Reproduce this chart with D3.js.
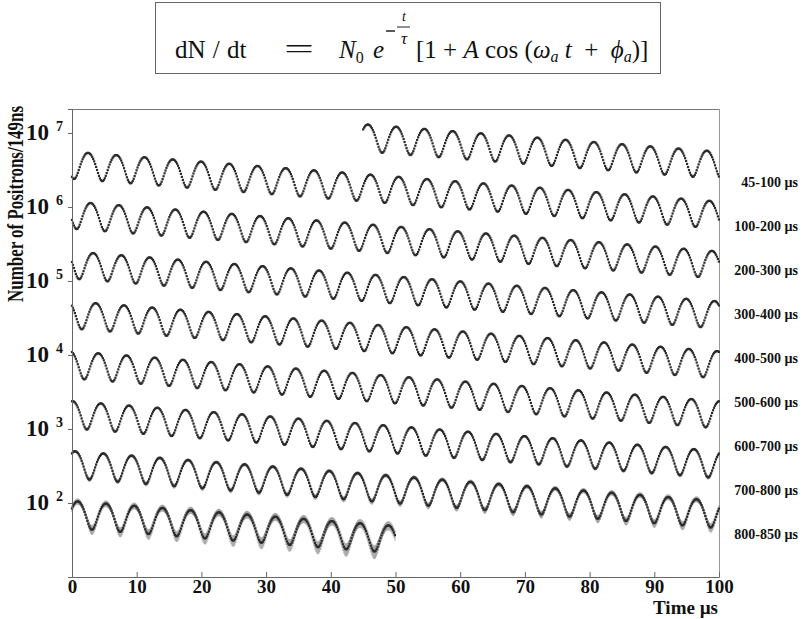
<!DOCTYPE html>
<html><head><meta charset="utf-8">
<script src="https://cdn.jsdelivr.net/npm/d3@7"></script>
<style>body{margin:0;background:#fff} svg{display:block}</style>
</head><body>
<svg id="chart" width="802" height="619"></svg>
<script>
// ---- data ----
const rowLabels = ["45-100 µs","100-200 µs","200-300 µs","300-400 µs","400-500 µs","500-600 µs","600-700 µs","700-800 µs","800-850 µs"];
const rowStart  = [45, 100, 200, 300, 400, 500, 600, 700, 800];
const rowEnd    = [100, 200, 300, 400, 500, 600, 700, 800, 850];
// fit parameters of dN/dt = N0 e^(-t/tau) [1 + A cos(wa t + phi)]
const fitN0 = 1.89e7;      // counts per 149 ns bin at t = 0
const fitTau = 64.4;       // dilated lifetime, µs
const fitA = 0.40;         // asymmetry
const fitPeriod = 4.365;   // g-2 period, µs
const fitPeakTime = 2.1;   // time of first maximum, µs
const binWidth = 0.149;    // µs
const xTickValues = [0,10,20,30,40,50,60,70,80,90,100];
const yDecades = [2,3,4,5,6,7];

// ---- chart ----
const svg = d3.select("#chart");
const serif = "'Liberation Serif','Times New Roman',serif";
const x = d3.scaleLinear().domain([0,100]).range([72,719]);
const y = d3.scaleLog().domain([10, Math.pow(10,7.324)]).range([577,109]);

const omega = 2*Math.PI/fitPeriod;
const phi = -omega*fitPeakTime;
function model(t){ return fitN0*Math.exp(-t/fitTau)*(1+fitA*Math.cos(omega*t+phi)); }

const points = [];
rowStart.forEach((s,k)=>{
  const win = Math.floor(s/100)*100;
  const n = Math.round((rowEnd[k]-s)/binWidth);
  for(let i=0;i<=n;i++){
    const t = s + i*binWidth;
    if (t>rowEnd[k]) break;
    const v = model(t);
    points.push({row:k, local:t-win, v:v, err:Math.sqrt(v)});
  }
});

// formula box
const fg = svg.append("g").attr("font-family",serif).attr("fill","#111");
fg.append("rect").attr("x",155.5).attr("y",2.5).attr("width",505).attr("height",71)
  .attr("fill","none").attr("stroke","#666").attr("stroke-width",1);
fg.append("text").attr("x",175).attr("y",58).attr("font-size",25).attr("word-spacing",1).text("dN / dt");
fg.append("text").attr("x",284).attr("y",58).attr("font-size",28)
  .attr("textLength",30).attr("lengthAdjust","spacingAndGlyphs").text("=");
const nt = fg.append("text").attr("x",339).attr("y",58).attr("font-size",25);
nt.append("tspan").attr("font-style","italic").text("N");
nt.append("tspan").attr("font-size",16).attr("dy",5).text("0");
fg.append("text").attr("x",373).attr("y",58).attr("font-size",25).attr("font-style","italic").text("e");
fg.append("line").attr("x1",386).attr("x2",395).attr("y1",31).attr("y2",31).attr("stroke","#222").attr("stroke-width",1.5);
fg.append("line").attr("x1",397).attr("x2",410).attr("y1",27).attr("y2",27).attr("stroke","#222").attr("stroke-width",1);
fg.append("text").attr("x",404).attr("y",21).attr("font-size",14).attr("font-style","italic").attr("text-anchor","middle").text("t");
fg.append("text").attr("x",404).attr("y",44).attr("font-size",17).attr("font-style","italic").attr("text-anchor","middle").text("τ");
const bt = fg.append("text").attr("x",416).attr("y",58).attr("font-size",25).attr("xml:space","preserve");
bt.append("tspan").text("[1 + ");
bt.append("tspan").attr("font-style","italic").text("A");
bt.append("tspan").text(" cos (");
bt.append("tspan").attr("font-style","italic").text("ω");
bt.append("tspan").attr("font-style","italic").attr("font-size",16).attr("dy",4).text("a");
bt.append("tspan").attr("font-style","italic").attr("dy",-4).text(" t");
bt.append("tspan").text("  +  ");
bt.append("tspan").attr("font-style","italic").text("ϕ");
bt.append("tspan").attr("font-style","italic").attr("font-size",16).attr("dy",4).text("a");
bt.append("tspan").attr("dy",-4).text(")]");

// frame (top & right)
svg.append("line").attr("x1",x(0)).attr("x2",x(100)).attr("y1",109.5).attr("y2",109.5).attr("stroke","#777");
svg.append("line").attr("x1",x(100)+0.5).attr("x2",x(100)+0.5).attr("y1",109).attr("y2",577).attr("stroke","#999");

// data
const dg = svg.append("g");
dg.selectAll("line.err").data(points.filter(d=>(y(d.v-d.err)-y(d.v+d.err))>1.6)).join("line")
  .attr("class","err")
  .attr("x1",d=>x(d.local)).attr("x2",d=>x(d.local))
  .attr("y1",d=>y(d.v+d.err)).attr("y2",d=>y(d.v-d.err))
  .attr("stroke","#444").attr("stroke-width",0.6).attr("stroke-opacity",0.8);
dg.selectAll("rect.pt").data(points).join("rect")
  .attr("class","pt")
  .attr("x",d=>x(d.local)-1.1).attr("y",d=>y(d.v)-1.1)
  .attr("width",2.2).attr("height",2.2).attr("fill","#2b2b2b");

// x axis
const xa = svg.append("g").attr("transform","translate(0,577)");
xa.call(d3.axisBottom(x).tickValues(d3.range(0,101,2)).tickSize(-3).tickFormat(""));
xa.call(d3.axisBottom(x).tickValues(xTickValues).tickSize(-5).tickPadding(2).tickFormat(d3.format("d")));
xa.selectAll("path,line").attr("stroke","#666");
xa.selectAll("text").attr("font-family",serif).attr("font-weight","bold").attr("font-size",19).attr("fill","#111");
svg.append("text").attr("x",718).attr("y",614).attr("text-anchor","end")
  .attr("font-family",serif).attr("font-weight","bold").attr("font-size",19).attr("fill","#111").text("Time µs");

// y axis
const minor = [];
for(let e=1;e<=7;e++) for(let m=2;m<=9;m++){ const v=m*Math.pow(10,e); if(v<=Math.pow(10,7.324)) minor.push(v); }
const ya = svg.append("g").attr("transform","translate(72,0)");
ya.call(d3.axisLeft(y).tickValues(minor).tickSize(-3).tickFormat(""));
ya.call(d3.axisLeft(y).tickValues(yDecades.map(e=>Math.pow(10,e))).tickSize(4).tickFormat(""));
ya.selectAll("path,line").attr("stroke","#666");
const yl = svg.append("g").attr("font-family",serif).attr("font-weight","bold").attr("fill","#111");
yl.selectAll("text.base").data(yDecades).join("text").attr("class","base")
  .attr("x",49).attr("y",e=>y(Math.pow(10,e))+7).attr("text-anchor","end").attr("font-size",23).text("10");
yl.selectAll("text.exp").data(yDecades).join("text").attr("class","exp")
  .attr("x",56).attr("y",e=>y(Math.pow(10,e))-2).attr("font-size",14).text(e=>e);
svg.append("text").attr("transform","translate(23,204) rotate(-90)").attr("text-anchor","middle")
  .attr("font-family",serif).attr("font-weight","bold").attr("font-size",24).attr("fill","#111")
  .attr("textLength",196).attr("lengthAdjust","spacingAndGlyphs").text("Number of Positrons/149ns");

// row labels (evenly spaced list on the right)
svg.append("g").selectAll("text").data(rowLabels).join("text")
  .attr("x",798).attr("y",(d,k)=>187 + k*44)
  .attr("text-anchor","end").attr("font-family",serif).attr("font-weight","bold").attr("font-size",14).attr("fill","#111")
  .text(d=>d);
</script>
</body></html>
